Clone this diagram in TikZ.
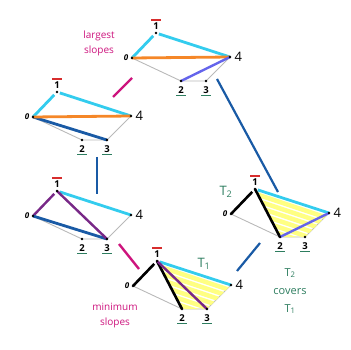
\documentclass[tikz,border=0pt]{standalone}
\usepackage{fontspec}
\setmainfont{Open Sans}
\usetikzlibrary{positioning,calc}

\definecolor{cyanline}{RGB}{51, 204, 238}
\definecolor{orangeline}{RGB}{245, 135, 40}
\definecolor{blueline}{RGB}{25, 90, 165}
\definecolor{violetline}{RGB}{100, 100, 235}
\definecolor{purpleline}{RGB}{120, 40, 135}
\definecolor{pinkline}{RGB}{205, 20, 125}
\definecolor{greyline}{RGB}{185, 185, 185}
\definecolor{stripecol}{RGB}{255, 255, 130}
\definecolor{notegreen}{RGB}{45, 125, 95}
\definecolor{barred}{RGB}{215, 45, 45}

\tikzset{
  greyedge/.style={draw=greyline, line width=0.9pt},
  cyanedge/.style={draw=cyanline, line width=2.8pt},
  orangeedge/.style={draw=orangeline, line width=2.8pt},
  blueedge/.style={draw=blueline, line width=2.8pt},
  violetedge/.style={draw=violetline, line width=2.4pt},
  purpleedge/.style={draw=purpleline, line width=2.4pt},
  blackedge/.style={draw=black, line width=2.6pt},
  stripe/.style={draw=stripecol, line width=4.5pt, line cap=round},
  bluelink/.style={draw=blueline, line width=2.2pt},
  pinklink/.style={draw=pinkline, line width=2.4pt},
  digit/.style={inner sep=0.5pt, font=\fontsize{9.5}{9.5}\selectfont\bfseries},
  overbar/.style={draw=barred, line width=1.4pt},
  underbar/.style={draw=notegreen, line width=1.3pt},
  note/.style={align=center, font=\fontsize{10}{15}\selectfont},
}

% corners of one pentagon, vertex 0 at (#2,#3)
\newcommand{\pentagon}[3]{%
  \coordinate (#1-0) at (#2,#3);
  \coordinate (#1-1) at ({#2+24},{#3-25});
  \coordinate (#1-2) at ({#2+49},{#3+23});
  \coordinate (#1-3) at ({#2+74},{#3+23});
  \coordinate (#1-4) at ({#2+98},{#3-1});
  \draw[greyedge] (#1-0) -- (#1-2) -- (#1-3) -- (#1-4);
}

% dots and vertex labels
\newcommand{\corners}[1]{%
  \foreach \k in {0,...,4} \fill (#1-\k) circle (1.4);
  \node[digit, left=3pt of #1-0, font=\fontsize{8}{8}\selectfont\bfseries\itshape] (#1-n0) {0};
  \node[digit, above=3pt of #1-1] (#1-n1) {1};
  \node[digit, below=4.5pt of #1-2] (#1-n2) {2};
  \node[digit, below=4.5pt of #1-3] (#1-n3) {3};
  \node[digit, right=4pt of #1-4, font=\fontsize{13}{13}\selectfont] (#1-n4) {4};
  \draw[overbar] ([xshift=-1.2pt, yshift=2pt]#1-n1.north west) -- ([xshift=1.2pt, yshift=2pt]#1-n1.north east);
  \draw[underbar] ([xshift=-1.5pt, yshift=-1.6pt]#1-n2.south west) -- ([xshift=1.5pt, yshift=-1.6pt]#1-n2.south east);
  \draw[underbar] ([xshift=-1.5pt, yshift=-1.6pt]#1-n3.south west) -- ([xshift=1.5pt, yshift=-1.6pt]#1-n3.south east);
}

\begin{document}
\begin{tikzpicture}[x=1pt, y=-1pt]
  \useasboundingbox (0,0) rectangle (351,350);

  % Top: largest slopes
  \pentagon{top}{132}{58}
  \draw[cyanedge, shorten >=4pt] (top-0) -- (top-1);
  \draw[cyanedge, shorten <=3pt] (top-1) -- (top-4);
  \draw[orangeedge] (top-0) -- (top-4);
  \draw[violetedge] (top-2) -- (top-4);
  \corners{top}

  % Left upper
  \pentagon{lup}{33}{117}
  \draw[cyanedge, shorten >=4pt] (lup-0) -- (lup-1);
  \draw[cyanedge, shorten <=3pt] (lup-1) -- (lup-4);
  \draw[blueedge] (lup-0) -- (lup-3);
  \draw[orangeedge] (lup-0) -- (lup-4);
  \corners{lup}

  % Left lower
  \pentagon{llo}{33}{216}
  \draw[purpleedge, shorten >=4pt] (llo-0) -- (llo-1);
  \draw[cyanedge, shorten <=3pt] (llo-1) -- (llo-4);
  \draw[blueedge] (llo-0) -- (llo-3);
  \draw[purpleedge] (llo-1) -- (llo-3);
  \corners{llo}

  % Bottom: minimum slopes, T1
  \pentagon{bot}{133}{286}
  \begin{scope}
    \clip (bot-1) -- (bot-2) -- (bot-3) -- (bot-4) -- cycle;
    \foreach \t in {0.12,0.28,0.44,0.60,0.76,0.92}
      \draw[stripe] ($(bot-1)!\t!(bot-2)$) -- ++(75,25);
  \end{scope}
  \draw[blackedge, shorten >=4pt] (bot-0) -- (bot-1);
  \draw[blackedge] (bot-1) -- (bot-2);
  \draw[cyanedge, shorten <=3pt] (bot-1) -- (bot-4);
  \draw[purpleedge] (bot-1) -- (bot-3);
  \corners{bot}

  % Right: T2
  \pentagon{rgt}{231}{214}
  \begin{scope}
    \clip (rgt-1) -- (rgt-2) -- (rgt-3) -- (rgt-4) -- cycle;
    \foreach \t in {0.12,0.28,0.44,0.60,0.76,0.92}
      \draw[stripe] ($(rgt-1)!\t!(rgt-2)$) -- ++(75,25);
  \end{scope}
  \draw[blackedge, shorten >=4pt] (rgt-0) -- (rgt-1);
  \draw[blackedge] (rgt-1) -- (rgt-2);
  \draw[cyanedge, shorten <=3pt] (rgt-1) -- (rgt-4);
  \draw[violetedge] (rgt-2) -- (rgt-4);
  \corners{rgt}

  % Links
  \coordinate (la) at (113,97);  \coordinate (lb) at (132,78);
  \coordinate (lc) at (97,157);  \coordinate (ld) at (97,194);
  \coordinate (le) at (119,244); \coordinate (lf) at (139,269);
  \coordinate (lg) at (237,271); \coordinate (lh) at (260,243);
  \coordinate (li) at (217,79);  \coordinate (lj) at (278,192);
  \draw[pinklink] (la) -- (lb);
  \draw[bluelink] (lc) -- (ld);
  \draw[pinklink] (le) -- (lf);
  \draw[bluelink] (lg) -- (lh);
  \draw[bluelink] (li) -- (lj);

  % Notes
  \node[note, pinkline] (largest) at (99,43) {largest\\slopes};
  \node[note, pinkline] (minimum) at (115,316) {minimum\\slopes};
  \node[note, notegreen, font=\fontsize{13}{13}\selectfont] (tone) at (204,264) {T\textsubscript{1}};
  \node[note, notegreen, font=\fontsize{13}{13}\selectfont] (ttwo) at (226,192) {T\textsubscript{2}};
  \node[note, notegreen, font=\fontsize{11}{18}\selectfont] (covers) at (290,291) {T\textsubscript{2}\\covers\\T\textsubscript{1}};
\end{tikzpicture}
\end{document}
